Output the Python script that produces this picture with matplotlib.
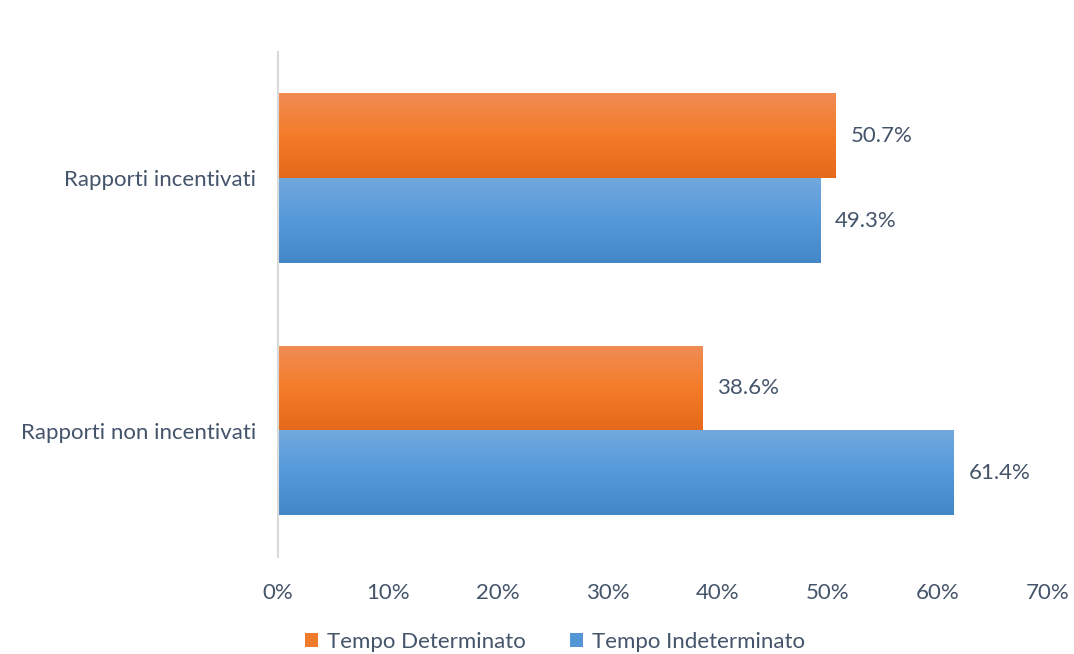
import numpy as np
import matplotlib
matplotlib.use("Agg")
import matplotlib.pyplot as plt
from matplotlib.colors import LinearSegmentedColormap
from matplotlib.patches import Patch

categories = ["Rapporti incentivati", "Rapporti non incentivati"]
series_names = ["Tempo Determinato", "Tempo Indeterminato"]
determinato = [50.7, 38.6]
indeterminato = [49.3, 61.4]
xticks = [0, 10, 20, 30, 40, 50, 60, 70]
xtick_labels = ["0%", "10%", "20%", "30%", "40%", "50%", "60%", "70%"]

text_color = "#44546A"
plt.rcParams['font.family'] = ['Lato', 'DejaVu Sans']
FS = 16

orange_cmap = LinearSegmentedColormap.from_list("o", ["#F08C55", "#F47C28", "#E4691A"])
blue_cmap = LinearSegmentedColormap.from_list("b", ["#72A8DD", "#5599DB", "#4387C6"])

fig = plt.figure(figsize=(10.74, 6.54), dpi=100)
ax = fig.add_axes([278/1074, 1-557/654, 770/1074, 505/654])

y = np.arange(len(categories))
h = 0.335
bars_o = ax.barh(y - h/2, determinato, height=h, color="none", edgecolor="none")
bars_b = ax.barh(y + h/2, indeterminato, height=h, color="none", edgecolor="none")

grad = np.linspace(0, 1, 256).reshape(-1, 1)
for bars, cmap in ((bars_o, orange_cmap), (bars_b, blue_cmap)):
    for b in bars:
        x0, y0 = b.get_x(), b.get_y()
        w, hh = b.get_width(), b.get_height()
        ax.imshow(grad, cmap=cmap, aspect='auto', extent=(x0, x0 + w, y0 + hh, y0),
                  origin='upper', zorder=2, interpolation='bilinear')
        ax.text(x0 + w + 1.35, y0 + hh/2, f"{w:.1f}%", va='center', ha='left',
                fontsize=FS, color=text_color)

ax.set_xlim(0, 70)
ax.set_ylim(1.5, -0.5)
ax.set_yticks(y)
ax.set_yticklabels(categories, fontsize=FS, color=text_color)
ax.set_xticks(xticks)
ax.set_xticklabels(xtick_labels, fontsize=FS, color=text_color)
ax.tick_params(axis='both', length=0)
ax.tick_params(axis='y', pad=16)
ax.tick_params(axis='x', pad=19)
for s in ("top", "right", "bottom"):
    ax.spines[s].set_visible(False)
ax.spines["left"].set_color("#D9D9D9")
ax.spines["left"].set_linewidth(1.5)

handles = [Patch(facecolor="#F07A2C", edgecolor="none"),
           Patch(facecolor="#5597D6", edgecolor="none")]
fig.legend(handles, series_names, loc='center', bbox_to_anchor=(555/1074, 1-642/654),
           ncol=2, frameon=False, fontsize=FS, labelcolor=text_color,
           handlelength=0.6, handleheight=0.6, handletextpad=0.4, columnspacing=2.0)

fig.savefig("out.png", dpi=100)
